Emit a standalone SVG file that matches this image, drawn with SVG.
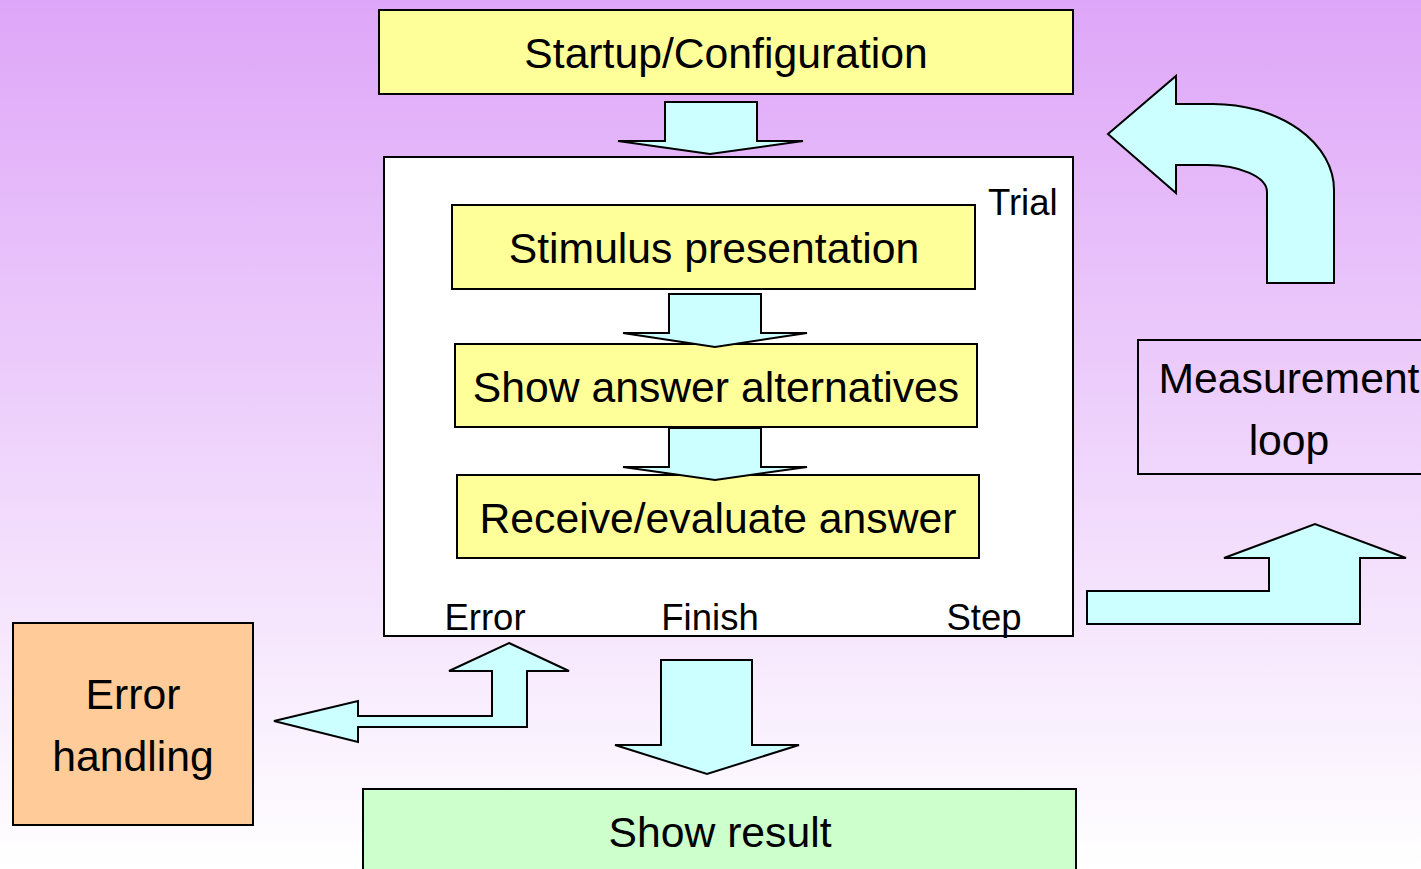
<svg xmlns="http://www.w3.org/2000/svg" width="1421" height="869" viewBox="0 0 1421 869">
  <defs>
    <linearGradient id="bg" x1="0" y1="0" x2="0" y2="1">
      <stop offset="0" stop-color="#DEA6F8"/>
      <stop offset="1" stop-color="#FFFFFF"/>
    </linearGradient>
    <style>
      .box { stroke: #000; stroke-width: 2; }
      .yellow { fill: #FFFF99; }
      .arrow { fill: #CCFFFF; stroke: #000; stroke-width: 2; stroke-linejoin: miter; }
      text { font-family: "Liberation Sans", Arial, sans-serif; fill: #000; }
      .big { font-size: 42.7px; }
      .small { font-size: 36.5px; }
    </style>
  </defs>
  <rect x="0" y="0" width="1421" height="869" fill="url(#bg)"/>

  <g id="startup">
    <rect class="box yellow" x="379" y="10" width="694" height="84"/>
    <text class="big" x="726" y="68" text-anchor="middle">Startup/Configuration</text>
  </g>

  <g id="trial">
    <rect class="box" fill="#FFFFFF" x="384" y="157" width="689" height="479"/>
    <text class="small" x="988" y="215">Trial</text>
    <text class="small" x="485" y="630" text-anchor="middle">Error</text>
    <text class="small" x="710" y="630" text-anchor="middle">Finish</text>
    <text class="small" x="984" y="630" text-anchor="middle">Step</text>
  </g>

  <g id="stimulus">
    <rect class="box yellow" x="452" y="205" width="523" height="84"/>
    <text class="big" x="714" y="263" text-anchor="middle">Stimulus presentation</text>
  </g>

  <g id="answers">
    <rect class="box yellow" x="455" y="344" width="522" height="83"/>
    <text class="big" x="716" y="402" text-anchor="middle">Show answer alternatives</text>
  </g>

  <g id="receive">
    <rect class="box yellow" x="457" y="475" width="522" height="83"/>
    <text class="big" x="718" y="533" text-anchor="middle">Receive/evaluate answer</text>
  </g>

  <g id="error-handling">
    <rect class="box" fill="#FFCC99" x="13" y="623" width="240" height="202"/>
    <text class="big" x="133" y="709" text-anchor="middle">Error</text>
    <text class="big" x="133" y="771" text-anchor="middle">handling</text>
  </g>

  <g id="show-result">
    <rect class="box" fill="#CCFFCC" x="363" y="789" width="713" height="100"/>
    <text class="big" x="720" y="847" text-anchor="middle">Show result</text>
  </g>

  <g id="measurement-loop">
    <rect class="box" fill="none" x="1138" y="340" width="300" height="134"/>
    <text class="big" x="1289" y="393" text-anchor="middle">Measurement</text>
    <text class="big" x="1289" y="455" text-anchor="middle">loop</text>
  </g>

  <g id="connectors">
    <polygon class="arrow" points="665,102 757,102 757,141 803,141 710,154 618,141 665,141"/>
    <polygon class="arrow" points="669,294 761,294 761,333 807,333 715,347 623,333 669,333"/>
    <polygon class="arrow" points="669,428 761,428 761,467 807,467 715,480 623,467 669,467"/>
    <polygon class="arrow" points="661,660 752,660 752,745 799,745 707,774 615,745 661,745"/>
    <polygon class="arrow" points="509,643 569,671 527,671 527,727 358,727 358,742 274,721 358,701 358,716 492,716 492,671 449,671"/>
    <polygon class="arrow" points="1087,591 1269,591 1269,558 1224,558 1315,524 1406,558 1360,558 1360,624 1087,624"/>
    <path class="arrow" d="M1176,104 L1213,104 A121,86 0 0 1 1334,190 L1334,283 L1267,283 L1267,192 A60,27 0 0 0 1207,165 L1176,165 L1176,193 L1108,134 L1176,76 Z"/>
  </g>
</svg>
